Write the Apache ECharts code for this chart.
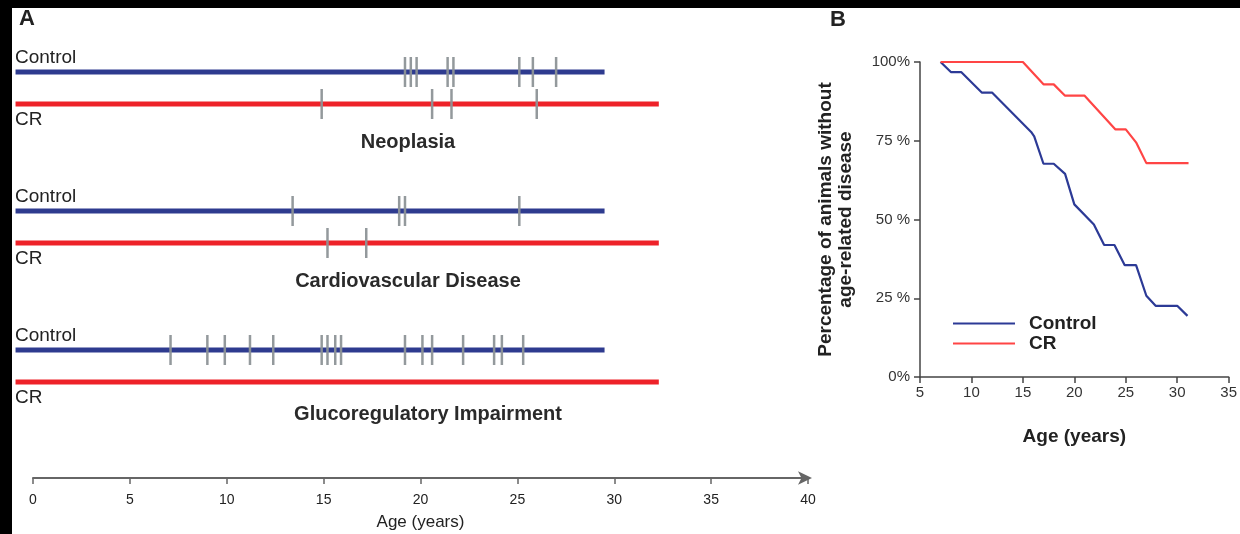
<!DOCTYPE html>
<html>
<head>
<meta charset="utf-8">
<script src="https://cdn.jsdelivr.net/npm/echarts@6/dist/echarts.min.js"></script>
<style>
html,body{margin:0;padding:0;background:#fff;}
#chart{width:1240px;height:534px;}
</style>
</head>
<body>
<div id="chart"></div>
<script>
// ---------- Panel A data (age in years at diagnosis) ----------
const groups = ['Control', 'CR'];
const diseases = ['Neoplasia', 'Cardiovascular Disease', 'Glucoregulatory Impairment'];
const neoControl = [19.2, 19.5, 19.8, 21.4, 21.7, 25.1, 25.8, 27.0];
const neoCR = [14.9, 20.6, 21.6, 26.0];
const cardioControl = [13.4, 18.9, 19.2, 25.1];
const cardioCR = [15.2, 17.2];
const glucControl = [7.1, 9.0, 9.9, 11.2, 12.4, 14.9, 15.2, 15.6, 15.9, 19.2, 20.1, 20.6, 22.2, 23.8, 24.2, 25.3];
const glucCR = [];
const spanControl = [-0.9, 29.5];
const spanCR = [-0.9, 32.3];
const ageTicksA = [0, 5, 10, 15, 20, 25, 30, 35, 40];

// ---------- Panel B data ----------
const controlAge = [7, 8, 9, 11, 12, 15.8, 16.1, 17, 18, 19.1, 20, 21.9, 22.9, 23.9, 24.9, 26, 27, 27.9, 30, 31];
const controlPct = [100, 96.8, 96.8, 90.3, 90.3, 77.8, 76.4, 67.7, 67.7, 64.5, 54.8, 48.4, 41.9, 41.9, 35.5, 35.5, 25.8, 22.6, 22.6, 19.4];
const crAge = [7, 15, 17, 18, 19.1, 21, 24, 25, 26, 27, 31.1];
const crPct = [100, 100, 92.9, 92.9, 89.3, 89.3, 78.6, 78.6, 74.5, 67.9, 67.9];
const pctTickLabels = ['0%', '25 %', '50 %', '75 %', '100%'];

const FONT = 'Liberation Sans, Arial, Helvetica, sans-serif';
const BLUE = '#2e3b8f';
const RED = '#ee2229';
const TICK = '#8d9397';

const eventSets = [
  [neoControl, neoCR],
  [cardioControl, cardioCR],
  [glucControl, glucCR]
];
const gridTops = [56, 195, 334];

const grids = [], xAxes = [], yAxes = [], series = [], titles = [], graphics = [];

eventSets.forEach((sets, i) => {
  grids.push({ left: 13.6, width: 794.4, top: gridTops[i], height: 64 });
  xAxes.push({ gridIndex: i, type: 'value', min: -1, max: 40, show: false });
  yAxes.push({ gridIndex: i, type: 'category', data: groups, inverse: true, show: false });
  // timelines
  [spanControl, spanCR].forEach((span, g) => {
    series.push({
      type: 'line', xAxisIndex: i, yAxisIndex: i, symbol: 'none', silent: true,
      lineStyle: { color: g === 0 ? BLUE : RED, width: 5 },
      data: [[span[0], groups[g]], [span[1], groups[g]]], z: 2
    });
  });
  // event ticks
  sets.forEach((ev, g) => {
    series.push({
      type: 'scatter', xAxisIndex: i, yAxisIndex: i, symbol: 'rect',
      symbolSize: [2.5, 30], silent: true,
      itemStyle: { color: TICK, opacity: 0.95 },
      data: ev.map(v => [v, groups[g]]), z: 3
    });
  });
  titles.push({
    text: diseases[i], left: [403, 403, 423][i], top: [127, 266, 399][i], textAlign: 'center',
    textStyle: { fontFamily: FONT, fontSize: 20, fontWeight: 'bold', color: '#2a2a2a' }
  });
  graphics.push({ type: 'text', left: 15, top: gridTops[i] - 8,
    style: { text: 'Control', font: '19px ' + FONT, fill: '#222' } });
  graphics.push({ type: 'text', left: 15, top: gridTops[i] + 54,
    style: { text: 'CR', font: '19px ' + FONT, fill: '#222' } });
});

// bottom age axis of panel A
grids.push({ left: 33, width: 775, top: 470, height: 8 });
xAxes.push({
  gridIndex: 3, type: 'value', min: 0, max: 40, interval: 5, position: 'bottom',
  name: 'Age (years)', nameLocation: 'middle', nameGap: 36,
  nameTextStyle: { fontFamily: FONT, fontSize: 17, color: '#222' },
  axisLine: { lineStyle: { color: '#666', width: 2 }, symbol: ['none', 'arrow'], symbolSize: [10, 14], symbolOffset: [0, 4] },
  axisTick: { lineStyle: { color: '#666', width: 1.5 }, length: 6 },
  axisLabel: { fontFamily: FONT, fontSize: 14, color: '#222', margin: 15,
    formatter: v => ageTicksA.includes(v) ? String(v) : '' },
  splitLine: { show: false }
});
yAxes.push({ gridIndex: 3, type: 'value', show: false });

// panel B
grids.push({ left: 920, right: 4, top: 62, bottom: 157 });
xAxes.push({
  gridIndex: 4, type: 'value', min: 5, max: 35, interval: 5,
  name: 'Age (years)', nameLocation: 'middle', nameGap: 50,
  nameTextStyle: { fontFamily: FONT, fontSize: 19, fontWeight: 'bold', color: '#222' },
  axisLine: { lineStyle: { color: '#444', width: 1.5 } },
  axisTick: { lineStyle: { color: '#444', width: 1.5 }, length: 6 },
  axisLabel: { fontFamily: FONT, fontSize: 15, color: '#333', margin: 8 },
  splitLine: { show: false }
});
yAxes.push({
  gridIndex: 4, type: 'value', min: 0, max: 100, interval: 25,
  name: 'Percentage of animals without\nage-related disease', nameLocation: 'middle', nameGap: 64,
  nameRotate: 90,
  nameTextStyle: { fontFamily: FONT, fontSize: 19, fontWeight: 'bold', color: '#222', lineHeight: 20 },
  axisLine: { show: true, lineStyle: { color: '#444', width: 1.5 } },
  axisTick: { show: true, lineStyle: { color: '#444', width: 1.5 }, length: 6 },
  axisLabel: { fontFamily: FONT, fontSize: 15, color: '#333', margin: 10,
    formatter: v => pctTickLabels[v / 25] },
  splitLine: { show: false }
});
series.push({
  name: 'Control', type: 'line', xAxisIndex: 4, yAxisIndex: 4, symbol: 'none',
  lineStyle: { color: '#2c3a96', width: 2.2 }, itemStyle: { color: '#2c3a96' },
  data: controlAge.map((a, k) => [a, controlPct[k]])
});
series.push({
  name: 'CR', type: 'line', xAxisIndex: 4, yAxisIndex: 4, symbol: 'none',
  lineStyle: { color: '#ff4545', width: 2.2 }, itemStyle: { color: '#ff4545' },
  data: crAge.map((a, k) => [a, crPct[k]])
});

titles.push({ text: 'A', left: 14, top: 3, textStyle: { fontFamily: FONT, fontSize: 22, fontWeight: 'bold', color: '#222' } });
titles.push({ text: 'B', left: 825, top: 4, textStyle: { fontFamily: FONT, fontSize: 22, fontWeight: 'bold', color: '#222' } });

// black border strips of the scanned figure
graphics.push({ type: 'rect', left: 0, top: 0, shape: { width: 1240, height: 8 }, style: { fill: '#000' }, z: 100 });
graphics.push({ type: 'rect', left: 0, top: 0, shape: { width: 12, height: 534 }, style: { fill: '#000' }, z: 100 });

const chart = echarts.init(document.getElementById('chart'), null, { renderer: 'canvas' });
chart.setOption({
  backgroundColor: '#fff',
  animation: false,
  title: titles,
  grid: grids,
  xAxis: xAxes,
  yAxis: yAxes,
  legend: {
    data: ['Control', 'CR'], orient: 'vertical', left: 948, top: 309,
    itemWidth: 62, itemHeight: 10, itemGap: 1, icon: 'path://M0,0 L62,0 L62,2 L0,2 Z',
    textStyle: { fontFamily: FONT, fontSize: 19, fontWeight: 'bold', color: '#222', padding: [0, 0, 0, 9] },
    selectedMode: false
  },
  graphic: graphics,
  series: series
});
</script>
</body>
</html>
